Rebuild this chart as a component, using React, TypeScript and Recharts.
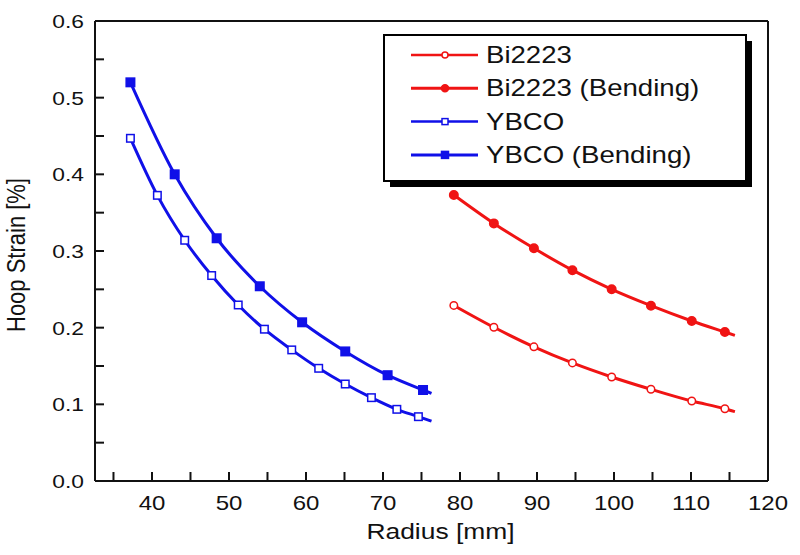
import React from 'react';
import { LineChart, Line, XAxis, YAxis, Label, Legend } from 'recharts';

// radius [mm] / hoop strain [%]
const bi2223Radius = [79.2, 84.4, 89.6, 94.6, 99.7, 104.8, 110.1, 114.4, 115.7];
const bi2223Strain = [0.229, 0.2005, 0.175, 0.154, 0.1357, 0.1196, 0.1043, 0.0943, 0.0904];
const bi2223Bending = [0.373, 0.336, 0.3035, 0.275, 0.25, 0.2287, 0.2087, 0.1943, 0.19];

const ybcoRadius = [37.2, 40.7, 44.25, 47.75, 51.2, 54.6, 58.15, 61.65, 65.1, 68.5, 71.8, 74.6, 76.3];
const ybcoStrain = [0.447, 0.3726, 0.314, 0.268, 0.2296, 0.198, 0.171, 0.147, 0.1265, 0.1087, 0.0935, 0.0839, 0.078];

const ybcoBendRadius = [37.2, 42.95, 48.4, 54.0, 59.5, 65.1, 70.6, 75.2, 76.3];
const ybcoBending = [0.52, 0.4, 0.3166, 0.254, 0.207, 0.169, 0.138, 0.1187, 0.1144];

const xTicks = [35, 40, 45, 50, 55, 60, 65, 70, 75, 80, 85, 90, 95, 100, 105, 110, 115, 120];
const yTicks = [0, 0.05, 0.1, 0.15, 0.2, 0.25, 0.3, 0.35, 0.4, 0.45, 0.5, 0.55, 0.6];
const X_DOMAIN = [32.6, 120];
const Y_DOMAIN = [0, 0.6];

const RED = '#f01414';
const BLUE = '#1010e8';
const INK = '#111111';
const FONT = '"Liberation Sans", Arial, sans-serif';
const STRETCH = 1.2; // the original image is stretched horizontally
const TICK = 9; // inward tick length

const toPoints = (rs: number[], vs: number[]) => rs.map((r, i) => ({ r, v: vs[i] }));

const series = [
  { name: 'Bi2223', data: toPoints(bi2223Radius, bi2223Strain), color: RED, shape: 'circle', filled: false },
  { name: 'Bi2223 (Bending)', data: toPoints(bi2223Radius, bi2223Bending), color: RED, shape: 'circle', filled: true },
  { name: 'YBCO', data: toPoints(ybcoRadius, ybcoStrain), color: BLUE, shape: 'square', filled: false },
  { name: 'YBCO (Bending)', data: toPoints(ybcoBendRadius, ybcoBending), color: BLUE, shape: 'square', filled: true },
];

const isMajorX = (v: number) => v % 10 === 0;
const isMajorY = (v: number) => Math.round(v * 100) % 10 === 0;

const Marker = ({ cx, cy, shape, filled, color, size }: any) => {
  if (shape === 'circle') {
    return <circle cx={cx} cy={cy} r={size / 2} fill={filled ? color : '#fff'} stroke={color} strokeWidth={1.5} />;
  }
  return (
    <rect x={cx - size / 2} y={cy - size / 2} width={size} height={size}
      fill={filled ? color : '#fff'} stroke={color} strokeWidth={1.5} />
  );
};

// the last point only extends the curve, no marker there
const makeDot = (s: any) => (props: any) => {
  const { cx, cy, index } = props;
  if (index === s.data.length - 1 || cx == null) return <g key={index} />;
  return (
    <g key={index}>
      <Marker cx={cx} cy={cy} shape={s.shape} filled={s.filled} color={s.color} size={s.filled ? 8.5 : 7.5} />
    </g>
  );
};

// tickSize is negative (ticks point inward), tickMargin = TICK brings x/y back onto the axis line
const renderBottomTick = (props: any) => {
  const v = props.payload.value;
  if (!isMajorX(v)) return <g key={`b${v}`} />;
  return (
    <text key={`b${v}`} transform={`translate(${props.x},${Number(props.y) + 29}) scale(${STRETCH},1)`}
      textAnchor="middle" fontSize={20} fontFamily={FONT} fill={INK}>
      {v}
    </text>
  );
};

const renderLeftTick = (props: any) => {
  const v = props.payload.value;
  if (!isMajorY(v)) return <g key={`l${v}`} />;
  return (
    <text key={`l${v}`} transform={`translate(${Number(props.x) - 11},${Number(props.y) + 7}) scale(${STRETCH},1)`}
      textAnchor="end" fontSize={19} fontFamily={FONT} fill={INK}>
      {v.toFixed(1)}
    </text>
  );
};

const XTitle = (props: any) => {
  const { x, y, width } = props.viewBox;
  return (
    <text transform={`translate(${x + width / 2 + 9},${y + 58}) scale(${STRETCH},1)`} textAnchor="middle"
      fontSize={22} fontFamily={FONT} fill={INK}>
      Radius [mm]
    </text>
  );
};

const YTitle = (props: any) => {
  const { y, height } = props.viewBox;
  return (
    <text transform={`translate(25,${y + height / 2 + 4}) scale(${STRETCH},1) rotate(-90)`} textAnchor="middle"
      fontSize={22} fontFamily={FONT} fill={INK}>
      Hoop Strain [%]
    </text>
  );
};

const LegendBox = () => (
  <svg width={372} height={156} style={{ display: 'block' }}>
    <rect x={7} y={7} width={362} height={146} fill="#000" />
    <rect x={1} y={1} width={362} height={146} fill="#fff" stroke="#000" strokeWidth={2} />
    {series.map((s, i) => {
      const cy = 21 + i * 33.3;
      return (
        <g key={s.name}>
          <line x1={28} y1={cy} x2={95} y2={cy} stroke={s.color} strokeWidth={s.filled ? 3 : 2.5} />
          <Marker cx={62} cy={cy} shape={s.shape} filled={s.filled} color={s.color} size={s.filled ? 7 : 6} />
          <text transform={`translate(103,${cy + 8}) scale(${STRETCH},1)`} fontSize={23} fontFamily={FONT} fill={INK}>
            {s.name}
          </text>
        </g>
      );
    })}
  </svg>
);

const axisLine = { stroke: INK, strokeWidth: 2 };
const tickLine = { stroke: INK, strokeWidth: 2 };

export default function App() {
  return (
    <div style={{ position: 'absolute', left: 0, top: 0, width: 800, height: 555, background: '#fff' }}>
      <LineChart width={800} height={555} margin={{ top: 0, right: 0, bottom: 0, left: 0 }}>
        <XAxis xAxisId="b" type="number" dataKey="r" orientation="bottom" domain={X_DOMAIN}
          ticks={xTicks} interval={0} height={74} tickSize={-TICK} tickMargin={TICK}
          tick={renderBottomTick} axisLine={axisLine} tickLine={tickLine}
          label={<Label content={<XTitle />} />} />
        <XAxis xAxisId="t" type="number" dataKey="r" orientation="top" domain={X_DOMAIN}
          ticks={xTicks} interval={0} height={21} tickSize={-TICK} tickMargin={TICK}
          tick={false} axisLine={axisLine} tickLine={tickLine} />
        <YAxis yAxisId="l" type="number" orientation="left" domain={Y_DOMAIN}
          ticks={yTicks} interval={0} width={95} tickSize={-TICK} tickMargin={TICK}
          tick={renderLeftTick} axisLine={axisLine} tickLine={tickLine}
          label={<Label content={<YTitle />} />} />
        <YAxis yAxisId="r" type="number" orientation="right" domain={Y_DOMAIN}
          ticks={yTicks} interval={0} width={32} tickSize={-TICK} tickMargin={TICK}
          tick={false} axisLine={axisLine} tickLine={tickLine} />
        {series.map((s) => (
          <Line key={s.name} xAxisId="b" yAxisId="l" data={s.data} dataKey="v" name={s.name}
            type="monotone" stroke={s.color} strokeWidth={3} dot={makeDot(s)} activeDot={false}
            isAnimationActive={false} />
        ))}
        <Legend layout="horizontal" verticalAlign="middle" align="center" content={() => <LegendBox />}
          wrapperStyle={{ position: 'absolute', left: 383, top: 34, width: 372, height: 156 }} />
      </LineChart>
    </div>
  );
}
